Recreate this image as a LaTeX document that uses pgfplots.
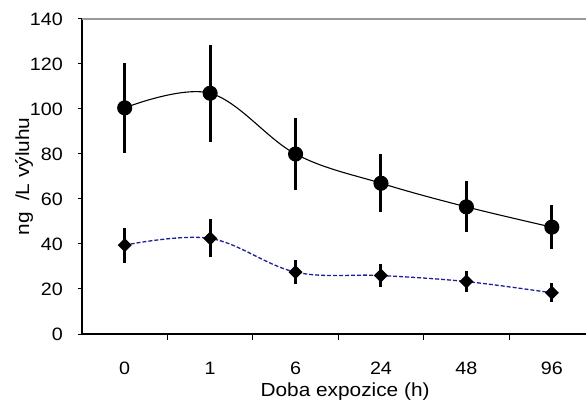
\documentclass[border=0pt]{standalone}
\usepackage{fontspec}
\setmainfont[FakeStretch=1.1]{Liberation Sans}
\usepackage{pgfplots}
\pgfplotsset{compat=1.18}

\definecolor{dashblue}{RGB}{30,30,150}
\newcommand{\tickfont}{\fontsize{18}{20}\selectfont}

\begin{document}
\begin{tikzpicture}
\path[use as bounding box] (0,0) rectangle (586bp,410bp);
\begin{axis}[
    at={(82bp,76bp)}, anchor=south west,
    scale only axis,
    width=504bp, height=315bp,
    xmin=-0.5, xmax=5.4,
    ymin=0, ymax=140,
    ytick={0,20,...,140},
    yticklabels={},
    xtick={0,...,5},
    xticklabels={},
    minor xtick={0.5,1.5,2.5,3.5,4.5},
    major x tick style={draw=none},
    tick align=outside,
    major tick length=4.5bp,
    minor tick length=5.5bp,
    tick style={black, line width=1bp},
    axis x line*=bottom,
    axis y line*=left,
    axis line style={black, line width=1.5bp, -},
    label style={font=\fontsize{19}{21}\selectfont},
    xlabel={Doba expozice (h)},
    ylabel={ng\ \ /L výluhu},
    xlabel style={at={(axis description cs:0.522,0)}, anchor=center, yshift=-58bp},
    ylabel style={at={(axis description cs:-0.115,0.5)}, anchor=center},
    clip=false,
]
\draw[gray!80, line width=1.2bp] (rel axis cs:0,1) -- (rel axis cs:1,1);

% tick labels
\node[font=\tickfont, anchor=center, yshift=-34bp] at (axis cs:0,0) {0};
\node[font=\tickfont, anchor=center, yshift=-34bp] at (axis cs:1,0) {1};
\node[font=\tickfont, anchor=center, yshift=-34bp] at (axis cs:2,0) {6};
\node[font=\tickfont, anchor=center, yshift=-34bp] at (axis cs:3,0) {24};
\node[font=\tickfont, anchor=center, yshift=-34bp] at (axis cs:4,0) {48};
\node[font=\tickfont, anchor=center, yshift=-34bp] at (axis cs:5,0) {96};
\node[font=\tickfont, anchor=east, inner sep=0pt, xshift=-19bp] at (axis cs:-0.5,0) {0};
\node[font=\tickfont, anchor=east, inner sep=0pt, xshift=-19bp] at (axis cs:-0.5,20) {20};
\node[font=\tickfont, anchor=east, inner sep=0pt, xshift=-19bp] at (axis cs:-0.5,40) {40};
\node[font=\tickfont, anchor=east, inner sep=0pt, xshift=-19bp] at (axis cs:-0.5,60) {60};
\node[font=\tickfont, anchor=east, inner sep=0pt, xshift=-19bp] at (axis cs:-0.5,80) {80};
\node[font=\tickfont, anchor=east, inner sep=0pt, xshift=-19bp] at (axis cs:-0.5,100) {100};
\node[font=\tickfont, anchor=east, inner sep=0pt, xshift=-19bp] at (axis cs:-0.5,120) {120};
\node[font=\tickfont, anchor=east, inner sep=0pt, xshift=-19bp] at (axis cs:-0.5,140) {140};

% upper series
\addplot[black, line width=1.1bp, smooth, tension=0.6,
    mark=*, mark size=7bp, mark options={solid, fill=black},
    error bars/.cd, y dir=both, y explicit, error mark=none,
    error bar style={line width=3bp, black}]
  coordinates {
    (0,100.5) +- (0,20)
    (1,107) +- (0,21.5)
    (2,80) +- (0,16)
    (3,67) +- (0,13)
    (4,56.5) +- (0,11.3)
    (5,47.5) +- (0,9.7)
  };

% lower series
\addplot[dashblue, line width=1.3bp, dash pattern=on 4bp off 2bp, smooth, tension=0.6,
    mark=square*, mark size=4.3bp, mark options={solid, fill=black, draw=black, rotate=45},
    error bars/.cd, y dir=both, y explicit, error mark=none,
    error bar style={line width=3bp, black, solid}]
  coordinates {
    (0,39.5) +- (0,7.8)
    (1,42.5) +- (0,8.5)
    (2,27.5) +- (0,5.2)
    (3,26) +- (0,5.3)
    (4,23.3) +- (0,4.6)
    (5,18.3) +- (0,4.2)
  };
\end{axis}
\end{tikzpicture}
\end{document}
